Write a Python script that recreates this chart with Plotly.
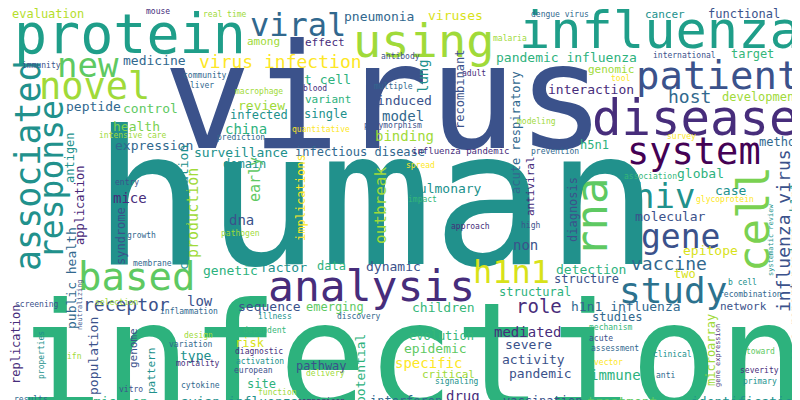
import plotly.graph_objects as go

# word cloud data (10 words per row) -----------------------------------------
words = [
    "virus", "human", "infection", "protein", "influenza", "using", "disease", "patient", "novel", "new",
    "viral", "cell", "associated", "response", "based", "analysis", "study", "system", "gene", "hiv",
    "rna", "h1n1", "virus infection", "pandemic influenza", "influenza virus", "vaccine", "receptor", "host", "interaction", "development",
    "pneumonia", "viruses", "medicine", "review", "china", "surveillance", "infectious disease", "binding", "model", "induced",
    "health", "control", "peptide", "expression", "antigen", "mice", "dna", "outbreak", "pulmonary", "molecular",
    "global", "case", "epitope", "detection", "dynamic", "factor", "genetic", "production", "syndrome", "role",
    "h1n1 influenza", "sequence", "low", "public health", "emerging", "children", "epidemic", "specific", "activity", "pandemic",
    "severe", "mediated", "evolution", "structure", "two", "drug", "treatment", "identification", "avian influenza", "transmission",
    "type", "population", "genome", "pathway", "interferon", "immune", "network", "risk", "site", "potential",
    "acute respiratory", "antiviral", "t cell", "lung", "h5n1", "evaluation", "cancer", "functional", "effect", "among",
    "mouse", "real time", "dengue virus", "international", "target", "genomic", "recombinant", "single", "variant", "infected",
    "domain", "non", "diagnosis", "microarray", "critical", "studies", "vaccination", "case report", "pandemic h1n1", "method",
    "replication", "early", "application", "characterization", "implications", "structural", "data", "pattern", "malaria", "immunity",
    "community", "liver", "macrophage", "blood", "multiple", "antibody", "intensive care", "quantitative", "prediction", "polymorphism",
    "entry", "adult", "tool", "modeling", "survey", "influenza pandemic", "prevention", "spread", "association", "glycoprotein",
    "impact", "growth", "pathogen", "membrane", "screening", "selection", "inflammation", "illness", "discovery", "ifn",
    "design", "dependent", "variation", "diagnostic", "activation", "mortality", "european", "delivery", "cytokine", "function",
    "vitro", "results", "comparison", "approach", "high", "b cell", "recombination", "mechanism", "acute", "assessment",
    "clinical", "toward", "vector", "severity", "anti", "signaling", "primary", "properties", "neutralizing", "systematic review",
    "gene expression",
]
xs = [
    376, 368, 402, 122, 652, 415, 687, 710, 86, 80,
    290, 745, 20, 43, 128, 363, 665, 686, 672, 656,
    583, 503, 272, 558, 775, 661, 118, 681, 583, 753,
    371, 447, 146, 253, 238, 233, 352, 396, 395, 396,
    128, 142, 85, 146, 62, 122, 233, 372, 438, 662,
    692, 722, 702, 583, 385, 275, 222, 185, 113, 531,
    618, 261, 192, 63, 327, 435, 427, 420, 525, 532,
    520, 519, 433, 578, 677, 455, 614, 738, 231, 93,
    187, 85, 125, 313, 398, 607, 735, 242, 253, 352,
    508, 522, 319, 415, 586, 40, 657, 736, 317, 255,
    150, 217, 552, 676, 744, 603, 452, 317, 320, 251,
    236, 517, 565, 703, 440, 609, 534, 787, 787, 772,
    8, 247, 72, 175, 293, 527, 323, 143, 502, 33,
    197, 194, 251, 307, 385, 392, 125, 313, 233, 385,
    119, 466, 612, 528, 673, 453, 547, 412, 642, 717,
    414, 133, 232, 144, 29, 109, 181, 267, 351, 66,
    190, 257, 183, 251, 252, 190, 245, 317, 192, 269,
    123, 23, 313, 462, 522, 734, 742, 603, 593, 607,
    664, 752, 600, 751, 657, 449, 752, 33, 72, 763,
    710,
]
ys = [
    89, 190, 348, 26, 22, 32, 110, 67, 78, 57,
    17, 211, 158, 172, 268, 278, 282, 143, 228, 188,
    210, 264, 53, 49, 223, 255, 296, 88, 81, 89,
    8, 7, 52, 97, 121, 144, 144, 128, 108, 92,
    118, 100, 98, 137, 150, 190, 212, 198, 180, 208,
    165, 182, 242, 261, 258, 259, 262, 205, 228, 298,
    298, 298, 293, 270, 299, 299, 340, 355, 351, 365,
    336, 324, 328, 271, 266, 388, 393, 393, 393, 393,
    347, 348, 340, 358, 393, 367, 298, 335, 376, 361,
    125, 178, 71, 68, 137, 6, 6, 6, 34, 33,
    3, 6, 6, 47, 46, 61, 82, 106, 91, 107,
    156, 237, 202, 342, 366, 309, 393, 315, 222, 134,
    337, 172, 198, 200, 190, 284, 258, 363, 30, 57,
    67, 77, 83, 80, 78, 48, 127, 121, 129, 117,
    174, 65, 70, 113, 128, 143, 143, 157, 168, 191,
    191, 227, 225, 255, 296, 294, 303, 308, 308, 348,
    327, 322, 336, 343, 353, 355, 362, 365, 377, 384,
    381, 391, 393, 218, 217, 274, 286, 319, 330, 340,
    346, 343, 354, 362, 367, 373, 373, 347, 297, 232,
    348,
]
sizes = [
    147, 188, 146, 55, 52, 47, 49, 39, 37, 34,
    32, 44, 35, 33, 39, 43, 36, 37, 33, 34,
    44, 32, 18, 13, 18, 18, 18, 18, 13, 12,
    13, 13, 13, 13, 14, 13, 12, 14, 14, 13,
    13, 13, 13, 13, 12, 14, 14, 16, 13, 13,
    13, 13, 13, 13, 13, 13, 13, 15, 12, 19,
    13, 13, 14, 13, 12, 13, 13, 14, 13, 13,
    13, 14, 12, 12, 12, 14, 13, 13, 13, 13,
    13, 13, 11, 12, 12, 14, 11, 12, 12, 13,
    12, 11, 13, 14, 12, 12, 11, 12, 11, 11,
    8, 8, 8, 8, 12, 11, 12, 12, 11, 12,
    12, 14, 12, 12, 11, 12, 12, 12, 12, 12,
    12, 15, 12, 13, 12, 12, 12, 11, 8, 8,
    8, 8, 8, 8, 8, 8, 8, 8, 8, 8,
    8, 8, 8, 8, 8, 9, 8, 8, 8, 8,
    8, 8, 8, 8, 8, 8, 8, 8, 8, 8,
    8, 8, 8, 8, 8, 8, 8, 8, 8, 8,
    8, 8, 8, 8, 8, 8, 8, 8, 8, 8,
    8, 8, 8, 8, 8, 8, 8, 8, 7, 7,
    7,
]
vertical = [
    "cell", "associated", "response", "rna", "influenza virus", "antigen", "outbreak", "production",
    "syndrome", "public health", "population", "genome", "potential", "acute respiratory", "antiviral",
    "lung", "recombinant", "diagnosis", "microarray", "case report", "pandemic h1n1", "replication",
    "early", "application", "characterization", "implications", "pattern", "properties", "neutralizing",
    "systematic review", "gene expression",
]
colors = [
    "#3b528b", "#21918c", "#2db27d", "#1f9e89", "#1f9e89", "#a0da39", "#472d7b", "#3b528b", "#a0da39", "#5ec962",
    "#31688e", "#7ad151", "#21918c", "#21918c", "#5ec962", "#472d7b", "#2c728e", "#440154", "#3b528b", "#21918c",
    "#5ec962", "#d8e219", "#fde725", "#2db27d", "#3b528b", "#31688e", "#3b528b", "#31688e", "#472d7b", "#a0da39",
    "#31688e", "#d8e219", "#31688e", "#a0da39", "#2db27d", "#21918c", "#31688e", "#a0da39", "#31688e", "#3b528b",
    "#7ad151", "#5ec962", "#31688e", "#31688e", "#21918c", "#472d7b", "#3b528b", "#a0da39", "#21918c", "#3b528b",
    "#2db27d", "#21918c", "#d8e219", "#2db27d", "#3b528b", "#21918c", "#2db27d", "#a0da39", "#3b528b", "#472d7b",
    "#31688e", "#3b528b", "#3b528b", "#31688e", "#5ec962", "#35b779", "#5ec962", "#fde725", "#3b528b", "#3b528b",
    "#3b528b", "#472d7b", "#35b779", "#3b528b", "#d8e219", "#472d7b", "#5ec962", "#21918c", "#21918c", "#2db27d",
    "#21918c", "#3b528b", "#3b528b", "#3b528b", "#31688e", "#2db27d", "#3b528b", "#d8e219", "#2db27d", "#2db27d",
    "#31688e", "#472d7b", "#2db27d", "#21918c", "#2db27d", "#b5de2b", "#21918c", "#3b528b", "#472d7b", "#a0da39",
    "#472d7b", "#a0da39", "#31688e", "#3b528b", "#35b779", "#a0da39", "#3b528b", "#21918c", "#2db27d", "#21918c",
    "#21918c", "#3b528b", "#3b528b", "#a0da39", "#a0da39", "#31688e", "#3b528b", "#3b528b", "#21918c", "#31688e",
    "#472d7b", "#5ec962", "#482878", "#21918c", "#fde725", "#2db27d", "#2db27d", "#21918c", "#a0da39", "#3b528b",
    "#31688e", "#31688e", "#a0da39", "#472d7b", "#31688e", "#3b528b", "#a0da39", "#fde725", "#31688e", "#3b528b",
    "#3b528b", "#472d7b", "#fde725", "#a0da39", "#fde725", "#472d7b", "#31688e", "#fde725", "#35b779", "#fde725",
    "#35b779", "#31688e", "#a0da39", "#31688e", "#3b528b", "#a0da39", "#31688e", "#21918c", "#31688e", "#a0da39",
    "#a0da39", "#35b779", "#31688e", "#472d7b", "#21918c", "#472d7b", "#3b528b", "#a0da39", "#31688e", "#a0da39",
    "#3b528b", "#31688e", "#472d7b", "#472d7b", "#3b528b", "#21918c", "#31688e", "#35b779", "#3b528b", "#31688e",
    "#21918c", "#5ec962", "#fde725", "#472d7b", "#31688e", "#21918c", "#21918c", "#21918c", "#3b528b", "#21918c",
    "#472d7b",
]

fig = go.Figure()
# invisible trace to set up the axes
fig.add_scatter(x=[0, 800], y=[0, 400], mode="markers", marker=dict(opacity=0),
                hoverinfo="skip", showlegend=False)

for w, x, y, s, c in zip(words, xs, ys, sizes, colors):
    fig.add_annotation(x=x, y=y, text=w, showarrow=False,
                       textangle=-90 if w in vertical else 0,
                       font=dict(family="DejaVu Sans Mono", size=s, color=c),
                       xanchor="center", yanchor="middle")

fig.update_layout(
    width=800, height=400,
    margin=dict(l=0, r=0, t=0, b=0),
    plot_bgcolor="white", paper_bgcolor="white",
    xaxis=dict(range=[0, 800], visible=False),
    yaxis=dict(range=[400, 0], visible=False),
    showlegend=False,
)

fig.write_html("out.html")
